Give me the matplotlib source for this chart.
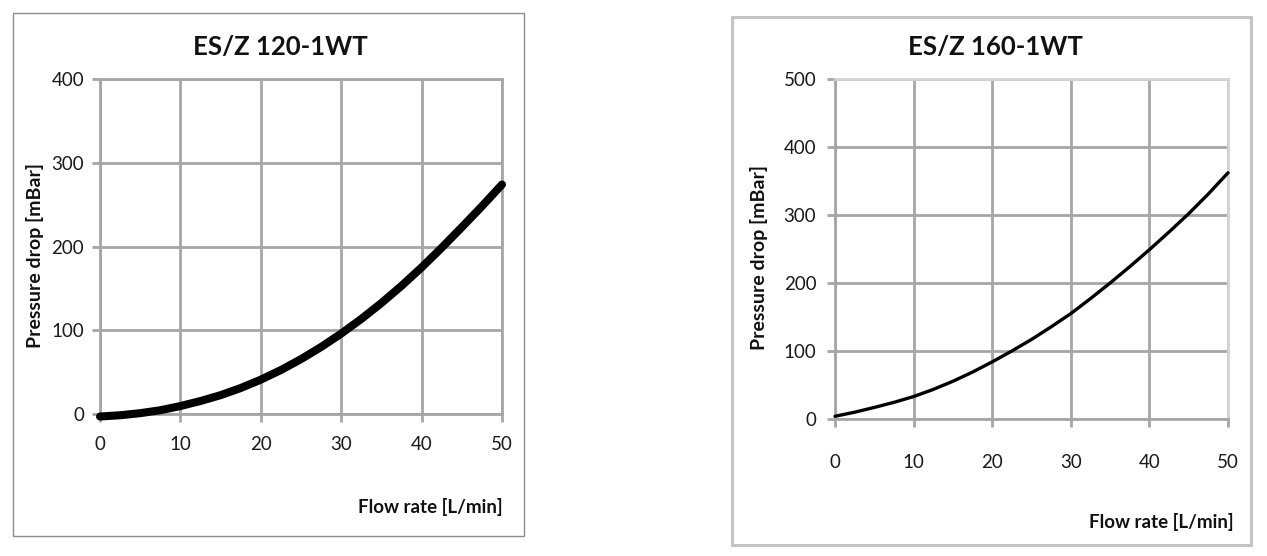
import matplotlib
matplotlib.use("Agg")
import matplotlib.pyplot as plt
from matplotlib.patches import Rectangle

plt.rcParams['font.family'] = ['Lato', 'DejaVu Sans']

# ---- data ----
flow_rate = [0, 2.5, 5, 7.5, 10, 12.5, 15, 17.5, 20, 22.5, 25,
             27.5, 30, 32.5, 35, 37.5, 40, 42.5, 45, 47.5, 50]
drop_120 = [-3, -1.5, 1, 4.5, 9.5, 15.5, 22.5, 31, 41, 52.5, 65.5,
            80, 96, 113.5, 132.5, 153, 175, 198.5, 223, 248, 274]
drop_160 = [4, 10, 17, 24.5, 33, 43.5, 55.5, 69, 84, 100, 117,
            135.5, 155, 177, 200, 224, 249, 275, 302, 331, 362]

title_120 = "ES/Z 120-1WT"
title_160 = "ES/Z 160-1WT"
xlabel = "Flow rate [L/min]"
ylabel = "Pressure drop [mBar]"
xticks = [0, 10, 20, 30, 40, 50]
yticks_120 = [0, 100, 200, 300, 400]
yticks_160 = [0, 100, 200, 300, 400, 500]

W, H = 1267, 556
fig = plt.figure(figsize=(W / 100, H / 100), dpi=100)

def fx(px):
    return px / W

def fy(py):
    return 1 - py / H

GRID = '#a6a6a6'

def make_axes(left, right, top, bottom, yt, xs, ys, lw, xpad, ypad,
              light_edges=False):
    ax = fig.add_axes([fx(left), fy(bottom), fx(right - left), (bottom - top) / H])
    ax.plot(xs, ys, color='black', lw=lw, solid_capstyle='round',
            solid_joinstyle='round', clip_on=False, zorder=5)
    ax.set_xlim(0, 50)
    ax.set_ylim(yt[0], yt[-1])
    ax.set_xticks(xticks)
    ax.set_yticks(yt)
    ax.grid(True, color=GRID, lw=2.0)
    ax.set_axisbelow(True)
    for s in ax.spines.values():
        s.set_color(GRID)
        s.set_linewidth(2.0)
    if light_edges:
        ax.spines['top'].set_color('#d4d4d4')
        ax.spines['right'].set_color('#d4d4d4')
    ax.tick_params(axis='both', direction='out', length=5.5, width=2.0,
                   color=GRID, labelsize=13.5, labelcolor='#1a1a1a')
    ax.tick_params(axis='x', pad=xpad)
    ax.tick_params(axis='y', pad=ypad)
    return ax

# frames
fig.patches.append(Rectangle((fx(13), fy(536)), fx(524 - 13), (536 - 13) / H,
                             transform=fig.transFigure, fill=False,
                             edgecolor='#8c8c8c', lw=1.0))
fig.patches.append(Rectangle((fx(732), fy(545)), fx(1251 - 732), (545 - 17) / H,
                             transform=fig.transFigure, fill=False,
                             edgecolor='#c4c4c4', lw=2.2))

ax1 = make_axes(100, 502, 79, 414, yticks_120, flow_rate, drop_120, 5.8, 10, 6)
ax2 = make_axes(835, 1228, 79, 419, yticks_160, flow_rate, drop_160, 2.4, 20, 8,
                light_edges=True)

fig.text(fx(280), fy(47), title_120, ha='center', va='center',
         fontsize=18.5, fontweight='bold', color='#111111')
fig.text(fx(995), fy(47), title_160, ha='center', va='center',
         fontsize=18.5, fontweight='bold', color='#111111')

fig.text(fx(35), fy(255), ylabel, ha='center', va='center', rotation=90,
         fontsize=14, fontweight='bold', color='#111111')
fig.text(fx(759), fy(258), ylabel, ha='center', va='center', rotation=90,
         fontsize=14, fontweight='bold', color='#111111')

fig.text(fx(503), fy(507), xlabel, ha='right', va='center',
         fontsize=13.5, fontweight='bold', color='#111111')
fig.text(fx(1234), fy(522), xlabel, ha='right', va='center',
         fontsize=13.5, fontweight='bold', color='#111111')

fig.savefig('out.png', dpi=100, facecolor='white')
